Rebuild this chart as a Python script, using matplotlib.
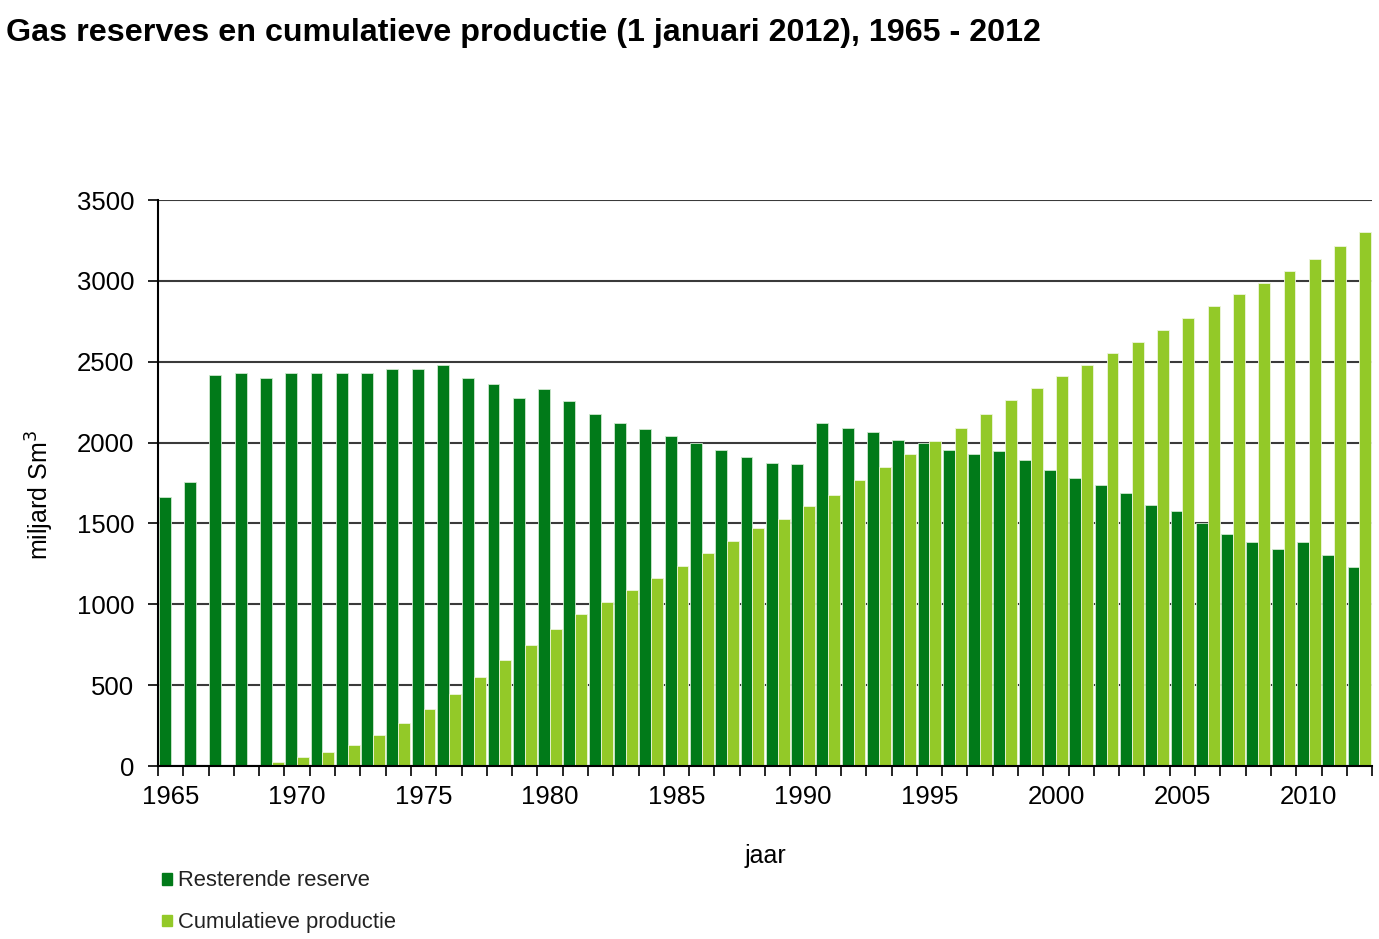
import numpy as np
import matplotlib.pyplot as plt
from matplotlib.patches import Patch
from matplotlib.ticker import FixedLocator

plt.rcParams['font.family'] = ['Liberation Sans', 'DejaVu Sans']

# ===================== DATA =====================
jaren = list(range(1965, 2013))

resterende_reserve = [
    1662, 1757, 2420, 2429, 2402, 2429, 2429, 2429, 2429, 2453,
    2453, 2478, 2402, 2361, 2274, 2334, 2255, 2179, 2119, 2082,
    2041, 1999, 1956, 1912, 1875, 1869, 2119, 2092, 2067, 2015,
    1999, 1956, 1929, 1948, 1894, 1833, 1782, 1739, 1687, 1617,
    1577, 1505, 1437, 1387, 1345, 1387, 1302, 1232,
]

cumulatieve_productie = [
    8, 8, 8, 8, 27, 54, 87, 130, 190, 269,
    353, 448, 551, 657, 750, 845, 940, 1016, 1086, 1163,
    1239, 1318, 1394, 1473, 1530, 1611, 1679, 1766, 1851, 1927,
    2007, 2092, 2178, 2266, 2340, 2410, 2477, 2556, 2624, 2696,
    2773, 2842, 2919, 2986, 3063, 3133, 3218, 3304,
]

label_jaren = [1965, 1970, 1975, 1980, 1985, 1990, 1995, 2000, 2005, 2010]

kleur_reserve = '#017A19'
kleur_productie = '#93C928'

# ===================== FIGUUR =====================
fig = plt.figure(figsize=(13.79, 9.39), dpi=100)
ax = fig.add_axes([0.1146, 0.1842, 0.8804, 0.6028])

x = np.arange(len(jaren))
w = 0.47
ax.bar(x - w / 2, resterende_reserve, width=w, color=kleur_reserve,
       edgecolor='#cfe8cf', linewidth=0.6, zorder=3)
ax.bar(x + w / 2, cumulatieve_productie, width=w, color=kleur_productie,
       edgecolor='#eef6dc', linewidth=0.6, zorder=3)

ax.set_xlim(-0.5, len(jaren) - 0.5)
ax.set_ylim(0, 3500)
ax.set_yticks(np.arange(0, 3501, 500))

# labels op het midden van de jaren, tickstreepjes op de grenzen
ax.set_xticks([jaren.index(j) for j in label_jaren])
ax.set_xticklabels([str(j) for j in label_jaren])
ax.xaxis.set_minor_locator(FixedLocator(np.arange(-0.5, len(jaren), 1)))
ax.tick_params(axis='x', which='major', length=0, labelsize=18.5, pad=14)
ax.tick_params(axis='x', which='minor', length=7, width=1.2, direction='out')
ax.tick_params(axis='y', which='major', length=7, width=1.2, labelsize=18.5, pad=10)

ax.grid(axis='y', color='#3a3a3a', linewidth=1.5, zorder=0)
ax.set_axisbelow(True)

for s in ['top', 'right']:
    ax.spines[s].set_visible(False)
for s in ['left', 'bottom']:
    ax.spines[s].set_linewidth(1.5)
    ax.spines[s].set_zorder(4)

ax.set_ylabel('miljard Sm$^3$', fontsize=18)
ax.yaxis.set_label_coords(-0.084, 0.479)
ax.set_xlabel('jaar', fontsize=18, labelpad=25)

fig.text(0.004, 0.965, 'Gas reserves en cumulatieve productie (1 januari 2012), 1965 - 2012',
         fontsize=23.2, fontweight='bold', va='center', ha='left')

# ===================== LEGENDA =====================
handles = [Patch(color=kleur_reserve), Patch(color=kleur_productie)]
fig.legend(handles, ['Resterende reserve', 'Cumulatieve productie'],
           loc='upper left', bbox_to_anchor=(0.1035, 0.094), frameon=False,
           fontsize=15.8, handlelength=0.45, handleheight=0.45, handletextpad=0.25,
           labelspacing=0.95, labelcolor='#222222')

fig.savefig('out.png', dpi=100)
